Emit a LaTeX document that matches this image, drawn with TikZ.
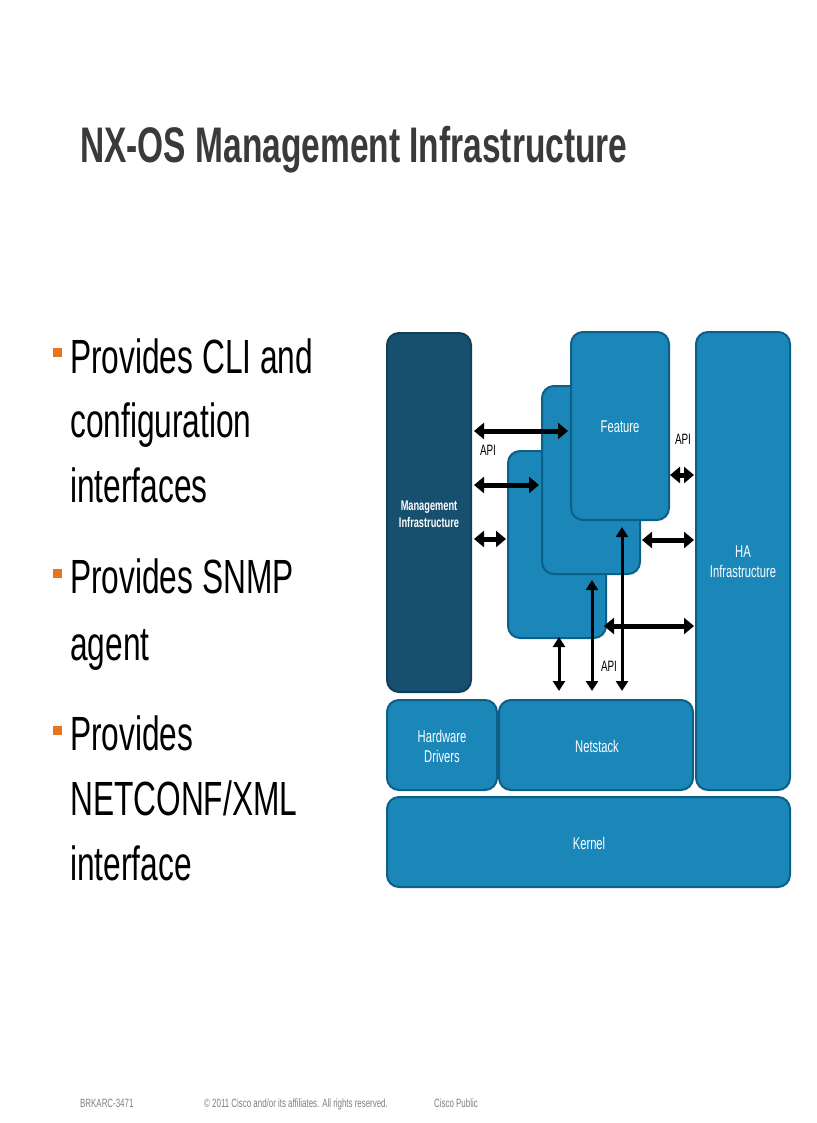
\documentclass[tikz,border=0pt]{standalone}
\usepackage{fontspec}
\setmainfont{Liberation Sans}
\usetikzlibrary{arrows.meta}
\definecolor{blu}{HTML}{1A87B8}
\definecolor{blub}{HTML}{0E5F88}
\definecolor{dk}{HTML}{174F6E}
\definecolor{ttl}{HTML}{3A3A3A}
\definecolor{org}{HTML}{E8731C}
\tikzset{
 blk/.style={draw=blub,line width=2pt,fill=blu,rounded corners=12pt},
 lab/.style={text=white,align=center,font=\fontsize{17}{20}\selectfont},
 dbl/.style={line width=5pt,{Triangle[length=10pt,width=16pt]}-{Triangle[length=10pt,width=16pt]}},
 dblv/.style={line width=3pt,{Triangle[length=10pt,width=12pt]}-{Triangle[length=10pt,width=12pt]}},
 api/.style={font=\fontsize{15}{16}\selectfont,inner sep=0pt},
 bul/.style={anchor=base west,inner sep=0pt,font=\fontsize{48}{48}\selectfont},
 sq/.style={fill=org,minimum size=9pt,inner sep=0pt}
}
\newcommand{\nar}[1]{\scalebox{0.66}[1]{#1}}
\begin{document}
\begin{tikzpicture}[x=1pt,y=-1pt]
\useasboundingbox[fill=white] (0,0) rectangle (816,1123);
\node[anchor=base west,inner sep=0pt,text=ttl,font=\fontsize{50}{50}\selectfont\bfseries] (title) at (80,163) {\scalebox{0.67}[1]{NX-OS Management Infrastructure}};
% bullets
\node[sq] (s1) at (57,352) {};
\node[sq] (s2) at (57,573) {};
\node[sq] (s3) at (57,730) {};
\node[bul] (b1) at (70,373) {\nar{Provides CLI and}};
\node[bul] (b1b) at (70,437) {\nar{configuration}};
\node[bul] (b1c) at (70,502) {\nar{interfaces}};
\node[bul] (b2) at (70,593) {\nar{Provides SNMP}};
\node[bul] (b2b) at (70,660) {\nar{agent}};
\node[bul] (b3) at (70,750) {\nar{Provides}};
\node[bul] (b3b) at (70,815) {\nar{NETCONF/XML}};
\node[bul] (b3c) at (70,880) {\nar{interface}};
% blocks
\draw[blk,fill=dk,draw=dk!80!black] (387,333) rectangle (471,692);
\node[lab,font=\fontsize{14}{17}\selectfont\bfseries] (mgmt) at (429,514) {\nar{Management}\\\nar{Infrastructure}};
\draw[blk] (508,451) rectangle (606,638);
\draw[blk] (542,386) rectangle (640,574);
\draw[blk] (571,332) rectangle (669,520);
\node[lab] (feat) at (620,427) {\nar{Feature}};
\draw[blk] (696,332) rectangle (790,790);
\node[lab] (ha) at (743,562) {\nar{HA}\\\nar{Infrastructure}};
\draw[blk] (387,700) rectangle (497,790);
\node[lab] (hw) at (442,746) {\nar{Hardware}\\\nar{Drivers}};
\draw[blk] (499,700) rectangle (693,790);
\node[lab] (net) at (597,746) {\nar{Netstack}};
\draw[blk] (387,797) rectangle (790,887);
\node[lab] (ker) at (589,843) {\nar{Kernel}};
% arrows
\coordinate (a1) at (474,431); \coordinate (a2) at (568,431);
\coordinate (a3) at (474,485); \coordinate (a4) at (539,485);
\coordinate (a5) at (474,539); \coordinate (a6) at (506,539);
\coordinate (a7) at (670,475); \coordinate (a8) at (694,475);
\coordinate (a9) at (642,540); \coordinate (a10) at (694,540);
\coordinate (a11) at (604,626); \coordinate (a12) at (694,626);
\coordinate (v1) at (559,637); \coordinate (v1b) at (559,691);
\coordinate (v2) at (592,580); \coordinate (v2b) at (592,691);
\coordinate (v3) at (622,527); \coordinate (v3b) at (622,691);
\foreach \p/\q in {a1/a2,a3/a4,a5/a6,a7/a8,a9/a10,a11/a12}
  \draw[dbl] (\p) -- (\q);
\foreach \p/\q in {v1/v1b,v2/v2b,v3/v3b}
  \draw[dblv] (\p) -- (\q);
\node[api] (api1) at (488,450) {\nar{API}};
\node[api] (api2) at (683,439) {\nar{API}};
\node[api] (api3) at (609,666) {\nar{API}};
% footer
\node[anchor=base west,inner sep=0pt,text=gray,font=\fontsize{12}{12}\selectfont] (f1) at (80,1107) {\nar{BRKARC-3471}};
\node[anchor=base west,inner sep=0pt,text=gray,font=\fontsize{12}{12}\selectfont] (f2) at (204,1107) {\nar{© 2011 Cisco and/or its affiliates. All rights reserved.}};
\node[anchor=base west,inner sep=0pt,text=gray,font=\fontsize{12}{12}\selectfont] (f3) at (434,1107) {\nar{Cisco Public}};
\end{tikzpicture}
\end{document}
